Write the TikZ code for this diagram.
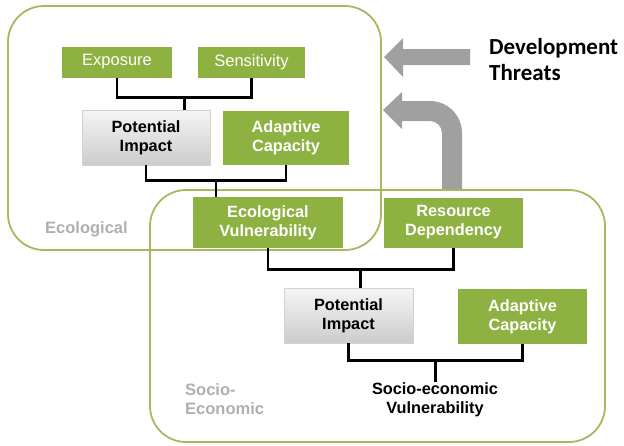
\documentclass[tikz,border=0pt]{standalone}
\usepackage{fontspec}
\setmainfont{Liberation Sans}
\newfontfamily\threatfont{Carlito}
\usetikzlibrary{positioning,calc}
\definecolor{boxgreen}{RGB}{141,178,66}
\definecolor{framegreen}{RGB}{165,185,95}
\definecolor{arrowgray}{RGB}{160,160,160}
\definecolor{labelgray}{RGB}{175,175,175}

\begin{document}
\begin{tikzpicture}[
        x=1pt, y=-1pt,
        green/.style={rectangle, fill=boxgreen, text=white, align=center, inner sep=0pt, font=\bfseries\fontsize{16.3}{19}\selectfont},
        greenthin/.style={green, font=\fontsize{16.5}{19}\selectfont},
        grey/.style={rectangle, draw=gray!35, top color=gray!8, bottom color=gray!40, align=center, inner sep=0pt, font=\bfseries\fontsize{16.3}{19}\selectfont},
        frame/.style={draw=framegreen, line width=1.8pt, rounded corners=36pt},
        link/.style={draw=black, line width=2.6pt},
        region/.style={text=labelgray, align=left, anchor=west, inner sep=0pt, font=\bfseries\fontsize{16.5}{19}\selectfont}
    ]
    \useasboundingbox (0,0) rectangle (624,445);

    % the two regions
    \draw[frame] (8,6) rectangle (381,250);
    \draw[frame] (150,190) rectangle (605,442);
    \node[region] (eco)   at (45,229) {Ecological};
    \node[region] (socio) at (185,399) {Socio-\\Economic};

    % ecological part
    \node[greenthin, minimum width=110, minimum height=31] (exp)  at (117,62)    {Exposure};
    \node[greenthin, minimum width=107, minimum height=31] (sens) at (251.5,62)  {Sensitivity};
    \node[grey,  minimum width=128, minimum height=55] (pi1) at (146,137.5) {Potential\\Impact};
    \node[green, minimum width=126, minimum height=54] (ac1) at (286,137.5) {Adaptive\\Capacity};
    \node[green, minimum width=150, minimum height=51] (ev)  at (268,222.5) {Ecological\\Vulnerability};

    % socio-economic part
    \node[green, minimum width=139, minimum height=50] (rd)  at (453.5,222.5) {Resource\\Dependency};
    \node[grey,  minimum width=129, minimum height=55] (pi2) at (348.5,315.5) {Potential\\Impact};
    \node[green, minimum width=129, minimum height=55] (ac2) at (522.5,316.5) {Adaptive\\Capacity};
    \node[align=center, inner sep=1pt, font=\bfseries\fontsize{16.3}{19}\selectfont] (sev) at (435,400) {Socio-economic\\Vulnerability};

    % brackets
    \draw[link] (exp.south) -- ++(0,20) -| (sens.south);
    \coordinate (m1) at ($(exp.south)!.5!(sens.south)+(0,20)$);
    \draw[link] (m1) -- (m1 |- pi1.north);
    \draw[link] (pi1.south) -- ++(0,15) -| (ac1.south);
    \coordinate (m2) at ($(pi1.south)!.5!(ac1.south)+(0,15)$);
    \draw[link] (m2) -- (m2 |- ev.north);
    \draw[link] (ev.south) -- ++(0,21) -| (rd.south);
    \coordinate (m3) at ($(ev.south)!.5!(rd.south)+(0,21)$);
    \draw[link] (m3) -- (m3 |- pi2.north);
    \draw[link] (pi2.south) -- ++(0,17) -| (ac2.south);
    \coordinate (m4) at ($(pi2.south)!.5!(ac2.south)+(0,17)$);
    \draw[link] (m4) -- (m4 |- sev.north);

    % threats
    \node[align=left, anchor=west, inner sep=0pt, font=\threatfont\bfseries\fontsize{23}{26}\selectfont] (threats) at (489,60) {Development\\Threats};
    \fill[arrowgray] (384,57) -- (403,38) -- (403,49) -- (470,49) -- (470,65) -- (403,65) -- (403,77) -- cycle;
    \fill[arrowgray] (383,110) -- (402,92) -- (402,101) -- (430,101)
        .. controls (447.7,101) and (462,115.3) .. (462,133) -- (462,189) -- (442,189) -- (442,133)
        .. controls (442,126.4) and (436.6,121) .. (430,121) -- (402,121) -- (402,129) -- cycle;
\end{tikzpicture}
\end{document}
